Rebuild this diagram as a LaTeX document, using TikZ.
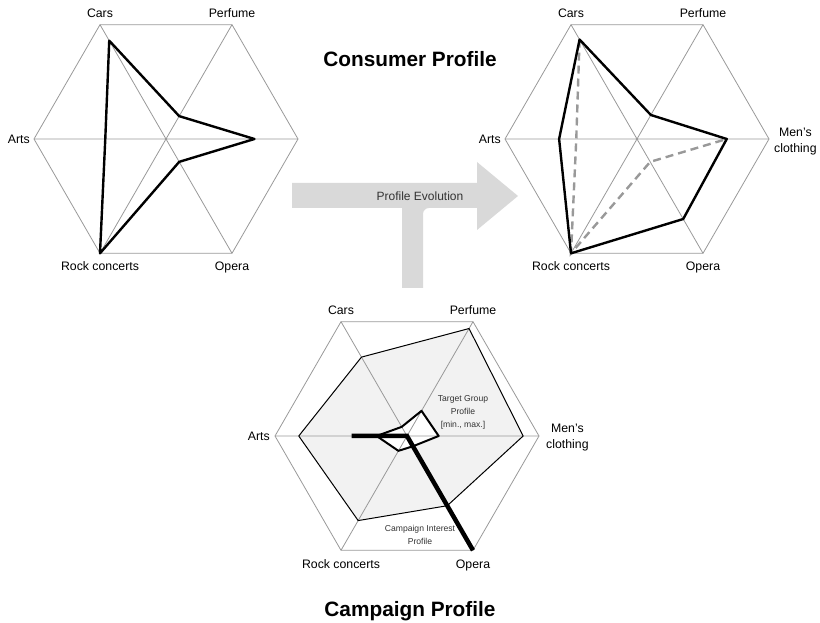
\documentclass[tikz,border=0pt]{standalone}
\usepackage{fontspec}
\setmainfont{Liberation Sans}
\usetikzlibrary{calc,positioning}
\definecolor{gridgray}{HTML}{999999}
\definecolor{arrowgray}{HTML}{D9D9D9}
\definecolor{areagray}{HTML}{F2F2F2}
\definecolor{textgray}{HTML}{333333}
\def\hexr{132}
\def\radargrid(#1){\foreach \a in {0,60,...,300} \coordinate (#1-\a) at ($(#1)+(\a:\hexr)$);
	\draw[grid] (#1-0) -- (#1-60) -- (#1-120) -- (#1-180) -- (#1-240) -- (#1-300) -- cycle;
	\draw[grid] (#1-0) -- (#1-180) (#1-60) -- (#1-240) (#1-120) -- (#1-300);}
\def\radarpoly[#1](#2)(#3:#4:#5:#6:#7:#8){\draw[#1] ($(#2)+(0:#3*\hexr)$) -- ($(#2)+(60:#4*\hexr)$) -- ($(#2)+(120:#5*\hexr)$) -- ($(#2)+(180:#6*\hexr)$) -- ($(#2)+(240:#7*\hexr)$) -- ($(#2)+(300:#8*\hexr)$) -- cycle;}
\tikzset{
	grid/.style={draw=gridgray, line width=0.8pt},
	lbl/.style={font=\fontsize{12.3}{16}\selectfont, inner sep=0pt},
	small/.style={font=\fontsize{8.6}{13}\selectfont, text=textgray, align=center, inner sep=0pt},
	title/.style={font=\fontsize{20.8}{24}\selectfont\bfseries, inner sep=0pt},
	profile/.style={draw=black, line width=2.4pt, line join=round},
	oldprofile/.style={draw=gridgray, line width=2.4pt, dash pattern=on 8pt off 5pt},
	campaign/.style={draw=black, line width=4.5pt}
}

\begin{document}
\begin{tikzpicture}[x=1pt, y=1pt]
		%%%%% START %%%%%
		\useasboundingbox (0,0) rectangle (820,623);
		
		\coordinate (tl) at (166,484);
		\coordinate (tr) at (637,484);
		\coordinate (bt) at (407,187);
		
		% evolution arrow
		\fill[arrowgray] (292,440) -- (477,440) -- (477,461) -- (518,427) -- (477,393) -- (477,415)
			-- (429,415) arc[start angle=90, end angle=180, radius=6] -- (423,335) -- (402,335) -- (402,415) -- (292,415) -- cycle;
		\node[lbl, font=\fontsize{12}{14}\selectfont, text=textgray] (evo) at (420,427) {Profile Evolution};
		
		% consumer profile before
		\radargrid(tl)
		\radarpoly[profile](tl)(0.67:0.2:0.86:0.46:1:0.2)
		\node[lbl, anchor=base] (tl-cars) at ([yshift=7.6pt]tl-120) {Cars};
		\node[lbl, anchor=base] (tl-perf) at ([yshift=7.6pt]tl-60) {Perfume};
		\node[lbl, left=4pt of tl-180] (tl-arts) {Arts};
		\node[lbl, anchor=base] (tl-rock) at ([yshift=-17.4pt]tl-240) {Rock concerts};
		\node[lbl, anchor=base] (tl-opera) at ([yshift=-17.4pt]tl-300) {Opera};
		
		% consumer profile after
		\radargrid(tr)
		\draw[oldprofile] ($(tr)+(120:0.87*\hexr)$) -- ($(tr)+(180:0.46*\hexr)$) -- (tr-240)
			-- ($(tr)+(300:0.2*\hexr)$) -- ($(tr)+(0:0.68*\hexr)$);
		\radarpoly[profile](tr)(0.68:0.21:0.87:0.59:1:0.7)
		\node[lbl, anchor=base] (tr-cars) at ([yshift=7.6pt]tr-120) {Cars};
		\node[lbl, anchor=base] (tr-perf) at ([yshift=7.6pt]tr-60) {Perfume};
		\node[lbl, left=4pt of tr-180] (tr-arts) {Arts};
		\node[lbl, align=center, right=5pt of tr-0, yshift=-3pt] (tr-mens) {Men’s\\clothing};
		\node[lbl, anchor=base] (tr-rock) at ([yshift=-17.4pt]tr-240) {Rock concerts};
		\node[lbl, anchor=base] (tr-opera) at ([yshift=-17.4pt]tr-300) {Opera};
		
		\node[title] (cons) at (410,564) {Consumer Profile};
		
		% campaign profile
		\radarpoly[fill=areagray, draw=none](bt)(0.88:0.94:0.69:0.82:0.74:0.61)
		\radarpoly[fill=white, draw=none](bt)(0.24:0.22:0.08:0.23:0.13:0.09)
		\radargrid(bt)
		\radarpoly[draw=black, line width=1pt, line join=round](bt)(0.88:0.94:0.69:0.82:0.74:0.61)
		\radarpoly[draw=black, line width=2pt, line join=round](bt)(0.24:0.22:0.08:0.23:0.13:0.09)
		\draw[campaign] ($(bt)+(180:0.42*\hexr)$) -- (bt) -- (bt-300);
		\node[lbl, anchor=base] (bt-cars) at ([yshift=7.6pt]bt-120) {Cars};
		\node[lbl, anchor=base] (bt-perf) at ([yshift=7.6pt]bt-60) {Perfume};
		\node[lbl, left=5pt of bt-180] (bt-arts) {Arts};
		\node[lbl, align=center, right=7pt of bt-0, yshift=-2pt] (bt-mens) {Men’s\\clothing};
		\node[lbl, anchor=base] (bt-rock) at ([yshift=-18.5pt]bt-240) {Rock concerts};
		\node[lbl, anchor=base] (bt-opera) at ([yshift=-18.5pt]bt-300) {Opera};
		\node[small] (target) at (463,211) {Target Group\\Profile\\{[}min., max.{]}};
		\node[small] (interest) at (420,88) {Campaign Interest\\Profile};
		
		\node[title] (camp) at (410,12) {Campaign Profile};
		
		%%%%% END %%%%%
	\end{tikzpicture}
\end{document}
